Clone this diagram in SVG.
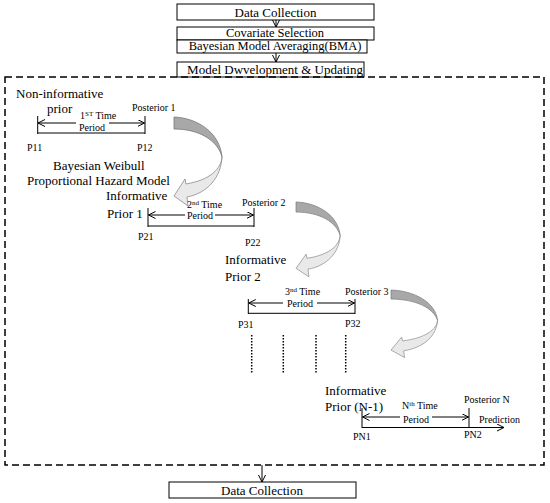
<svg xmlns="http://www.w3.org/2000/svg" width="550" height="503" viewBox="0 0 550 503">
<style>
text{font-family:"Liberation Serif","Times New Roman",serif;fill:#000}
.big{font-size:13px}
.mid{font-size:12.5px}
.sm{font-size:10px}
.box{fill:#fff;stroke:#000;stroke-width:1}
.ln{stroke:#000;stroke-width:1;fill:none}
.dark{fill:#a8a8a8;stroke:#7a7a7a;stroke-width:0.8}
.light{fill:#e9e9e9;stroke:#8a8a8a;stroke-width:0.8}
.dot{stroke:#000;stroke-width:1.5;stroke-dasharray:1.5 1.5}
</style>
<defs>
<marker id="ah" markerUnits="userSpaceOnUse" markerWidth="10" markerHeight="10" refX="7" refY="3.5" orient="auto-start-reverse">
<path d="M0,0 L7,3.5 L0,7" fill="none" stroke="#000" stroke-width="1"/>
</marker>
<g id="curve">
<path class="dark" d="M0,0 C24,1 46,16 48,40 C44,24 26,12 0,12 Z"/>
<path class="light" d="M48,40 C47,52 36,63 12,67 L11,62 L0,79 L14,89 L13,80 C34,76 47,60 48,40 Z"/>
</g>
</defs>

<g id="n-data1">
<rect class="box" x="177" y="4" width="197" height="16"/>
<text class="big" x="275.5" y="16.5" text-anchor="middle">Data Collection</text>
</g>
<g id="n-cov">
<rect class="box" x="177" y="27" width="197" height="13"/>
<text class="mid" x="275" y="36.5" text-anchor="middle">Covariate Selection</text>
</g>
<g id="n-bma">
<rect class="box" x="177" y="40" width="190" height="13"/>
<text class="mid" x="275" y="50" text-anchor="middle">Bayesian Model Averaging(BMA)</text>
</g>
<g id="n-model">
<rect class="box" x="177" y="62" width="187" height="15"/>
<text class="big" x="275" y="74" text-anchor="middle">Model Dwvelopment &amp; Updating</text>
</g>
<g id="n-frame">
<rect x="5" y="77" width="539" height="388" fill="none" stroke="#000" stroke-width="1.5" stroke-dasharray="7 4"/>
</g>
<g id="n-data2">
<rect class="box" x="169" y="482" width="187" height="16"/>
<text class="big" x="262" y="495" text-anchor="middle">Data Collection</text>
</g>

<g id="connectors">
<line class="ln" x1="276" y1="20" x2="276" y2="27" marker-end="url(#ah)"/>
<line class="ln" x1="276" y1="53" x2="276" y2="62" marker-end="url(#ah)"/>
<line class="ln" x1="262" y1="465" x2="262" y2="482" marker-end="url(#ah)"/>
</g>

<g id="n-period1">
<text class="big" x="16" y="98">Non-informative</text>
<text class="big" x="47" y="113">prior</text>
<line class="ln" x1="37.7" y1="116" x2="37.7" y2="134"/>
<line class="ln" x1="145" y1="116" x2="145" y2="134"/>
<line class="ln" x1="38" y1="123" x2="76" y2="123" marker-start="url(#ah)"/>
<line class="ln" x1="109" y1="123" x2="144.5" y2="123" marker-end="url(#ah)"/>
<line class="ln" x1="37.7" y1="133" x2="145" y2="133"/>
<text class="sm" x="80" y="119">1<tspan font-size="7" dy="-3">ST</tspan><tspan dy="3"> Time</tspan></text>
<text class="sm" x="79" y="131">Period</text>
<text class="sm" x="132" y="111">Posterior 1</text>
<text class="sm" x="27" y="151">P11</text>
<text class="sm" x="137" y="151">P12</text>
<text class="big" x="53" y="170">Bayesian Weibull</text>
<text class="big" x="27" y="185">Proportional Hazard Model</text>
</g>
<g id="n-arrow1"><use href="#curve" transform="translate(174,117)"/></g>

<g id="n-period2">
<text class="big" x="106" y="200">Informative</text>
<text class="big" x="107" y="218">Prior 1</text>
<line class="ln" x1="148" y1="208" x2="148" y2="227"/>
<line class="ln" x1="254" y1="208" x2="254" y2="227"/>
<line class="ln" x1="148.5" y1="215" x2="185" y2="215" marker-start="url(#ah)"/>
<line class="ln" x1="215" y1="215" x2="253.5" y2="215" marker-end="url(#ah)"/>
<line class="ln" x1="148" y1="226" x2="254" y2="226"/>
<text class="sm" x="187" y="208">2<tspan font-size="7" dy="-3">nd</tspan><tspan dy="3"> Time</tspan></text>
<text class="sm" x="187" y="218.5">Period</text>
<text class="sm" x="242" y="206">Posterior 2</text>
<text class="sm" x="138" y="240">P21</text>
<text class="sm" x="245" y="246">P22</text>
</g>
<g id="n-arrow2"><use href="#curve" transform="translate(296,202) scale(0.92,0.84)"/></g>

<g id="n-period3">
<text class="big" x="225" y="264">Informative</text>
<text class="big" x="225" y="281">Prior 2</text>
<line class="ln" x1="248.3" y1="299" x2="248.3" y2="314"/>
<line class="ln" x1="355" y1="299" x2="355" y2="314"/>
<line class="ln" x1="248.8" y1="303" x2="283" y2="303" marker-start="url(#ah)"/>
<line class="ln" x1="317" y1="303" x2="354.5" y2="303" marker-end="url(#ah)"/>
<line class="ln" x1="248.3" y1="313.3" x2="355" y2="313.3"/>
<text class="sm" x="285" y="295">3<tspan font-size="7" dy="-3">nd</tspan><tspan dy="3"> Time</tspan></text>
<text class="sm" x="287" y="307">Period</text>
<text class="sm" x="345" y="295">Posterior 3</text>
<text class="sm" x="238" y="328">P31</text>
<text class="sm" x="345" y="327">P32</text>
<line class="dot" x1="251.7" y1="335" x2="251.7" y2="374"/>
<line class="dot" x1="283.3" y1="335" x2="283.3" y2="374"/>
<line class="dot" x1="316" y1="335" x2="316" y2="374"/>
<line class="dot" x1="345.7" y1="335" x2="345.7" y2="374"/>
</g>
<g id="n-arrow3"><use href="#curve" transform="translate(391,290) scale(0.97,0.76)"/></g>

<g id="n-periodN">
<text class="big" x="325" y="395">Informative</text>
<text class="big" x="325" y="411">Prior (N-1)</text>
<line class="ln" x1="362" y1="408" x2="362" y2="428"/>
<line class="ln" x1="469" y1="408" x2="469" y2="428"/>
<line class="ln" x1="362.5" y1="417" x2="400" y2="417" marker-start="url(#ah)"/>
<line class="ln" x1="432" y1="417" x2="468.5" y2="417" marker-end="url(#ah)"/>
<line class="ln" x1="362" y1="427.5" x2="504" y2="427.5" marker-end="url(#ah)"/>
<text class="sm" x="402" y="409">N<tspan font-size="7" dy="-3">th</tspan><tspan dy="3"> Time</tspan></text>
<text class="sm" x="403" y="423">Period</text>
<text class="sm" x="464" y="403">Posterior N</text>
<text class="sm" x="479" y="423">Prediction</text>
<text class="sm" x="353" y="440">PN1</text>
<text class="sm" x="464" y="438">PN2</text>
</g>
</svg>
